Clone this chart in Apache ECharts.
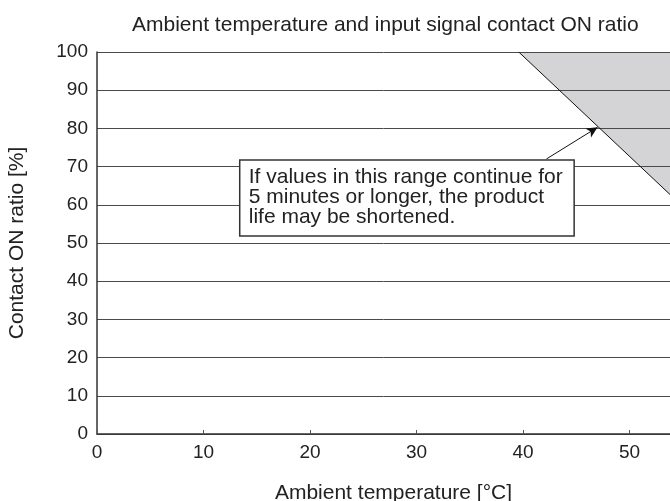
<!DOCTYPE html>
<html>
<head>
<meta charset="utf-8">
<script src="https://cdn.jsdelivr.net/npm/echarts@6/dist/echarts.min.js"></script>
<style>html,body{margin:0;padding:0;background:#fff}#c{width:670px;height:501px}</style>
</head>
<body>
<div id="c"></div>
<script>
const titleText = 'Ambient temperature and input signal contact ON ratio';
const xName = 'Ambient temperature [°C]';
const yName = 'Contact ON ratio [%]';
const xMin = 0, xMax = 53.8, xStep = 10;
const yMin = 0, yMax = 100, yStep = 10;
// limit line (boundary of the shaded region)
const limitLine = [[39.6, 100], [53.8, 62.7]];
const shadedRegion = [[39.6, 100], [53.8, 62.7], [53.8, 100]];
// annotation
const annotLines = ['If values in this range continue for', '5 minutes or longer, the product', 'life may be shortened.'];
const annotBox = [[13.4, 71.7], [44.8, 51.8]];
const arrowFrom = [42.2, 72.0];
const arrowTo = [47.0, 80.3];

const FONT = '"Liberation Sans", Arial, sans-serif';
const TXT = '#222';

const chart = echarts.init(document.getElementById('c'), null, {renderer: 'canvas'});
chart.setOption({
  animation: false,
  title: {
    text: titleText, left: 127, top: 10,
    textStyle: {fontFamily: FONT, fontSize: 21, fontWeight: 'normal', color: TXT}
  },
  grid: {left: 97, right: 0, top: 52, bottom: 67, containLabel: false, outerBoundsMode: 'none'},
  xAxis: {
    type: 'value', min: xMin, max: xMax, interval: xStep,
    name: xName, nameLocation: 'middle', nameGap: 49,
    nameTextStyle: {fontFamily: FONT, fontSize: 21, color: TXT, padding: [0, 0, 0, 20]},
    axisLine: {show: true, lineStyle: {color: '#333', width: 1.5}},
    axisTick: {show: true, inside: true, length: 4, lineStyle: {color: '#555'}},
    axisLabel: {fontFamily: FONT, fontSize: 19, color: TXT, margin: 9, showMaxLabel: false},
    splitLine: {show: false}
  },
  yAxis: {
    type: 'value', min: yMin, max: yMax, interval: yStep,
    name: yName, nameLocation: 'middle', nameGap: 69,
    nameTextStyle: {fontFamily: FONT, fontSize: 21, color: TXT},
    axisLine: {show: true, lineStyle: {color: '#333', width: 1.5}},
    axisTick: {show: false},
    axisLabel: {fontFamily: FONT, fontSize: 19, color: TXT, margin: 9},
    splitLine: {show: true, lineStyle: {color: '#4a4a4a', width: 1}}
  },
  series: [
    {
      type: 'custom', z: -1, clip: true, silent: true,
      data: [0],
      renderItem: function (params, api) {
        return {
          type: 'polygon',
          shape: {points: shadedRegion.map(p => api.coord(p))},
          style: {fill: '#d4d4d6', stroke: null}
        };
      }
    },
    {
      type: 'line', data: limitLine, symbol: 'none', silent: true,
      lineStyle: {color: '#111', width: 1}, z: 3,
      markLine: {
        silent: true, symbol: ['none', 'arrow'], symbolSize: [8, 11],
        label: {show: false},
        lineStyle: {color: '#111', width: 1, type: 'solid'},
        data: [[{coord: arrowFrom}, {coord: arrowTo}]]
      }
    },
    {
      type: 'custom', z: 10, silent: true, clip: false,
      data: [0],
      renderItem: function (params, api) {
        const a = api.coord(annotBox[0]);
        const b = api.coord(annotBox[1]);
        return {
          type: 'group',
          children: [
            {type: 'rect', shape: {x: a[0], y: a[1], width: b[0] - a[0], height: b[1] - a[1]},
             style: {fill: '#fff', stroke: '#333', lineWidth: 1.5}},
            {type: 'text', x: a[0] + 9, y: a[1] + 7,
             style: {text: annotLines.join('\n'), fontFamily: FONT, fontSize: 21, lineHeight: 20,
                     fill: TXT, textAlign: 'left', textVerticalAlign: 'top'}}
          ]
        };
      }
    }
  ]
});
</script>
</body>
</html>
